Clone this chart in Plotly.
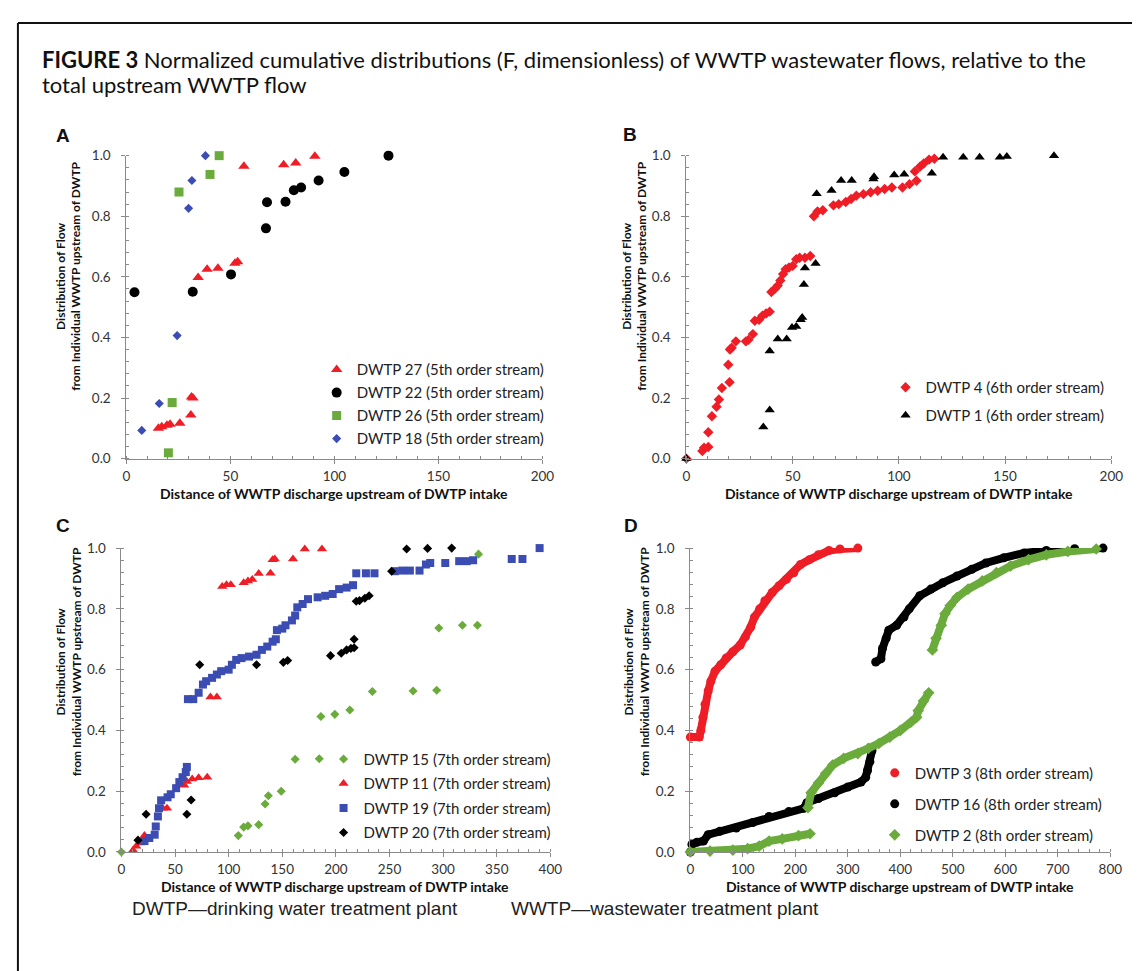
import plotly.graph_objects as go

W, H = 1140, 971

# ---------------- Panel A (5th order streams) ----------------
a27_x = [15.4, 17, 19.5, 21, 25.7, 31, 31.3, 32, 34.5, 38.8, 44, 52.2, 53.5, 56.5, 75.6, 81.4, 90.6]
a27_y = [0.100, 0.105, 0.110, 0.113, 0.117, 0.144, 0.203, 0.200, 0.598, 0.625, 0.628, 0.645, 0.650, 0.965, 0.970, 0.976, 0.998]
a22_x = [3.9, 31.9, 50.3, 67.1, 67.6, 76.5, 80.5, 84.0, 92.4, 104.8, 126.0]
a22_y = [0.549, 0.551, 0.608, 0.760, 0.846, 0.848, 0.886, 0.895, 0.918, 0.946, 1.0]
a26_x = [20.2, 22.0, 25.3, 40.2, 44.6]
a26_y = [0.019, 0.185, 0.880, 0.938, 1.0]
a18_x = [7.4, 15.8, 24.4, 29.9, 31.5, 38.0]
a18_y = [0.093, 0.182, 0.406, 0.826, 0.918, 1.0]

# ---------------- Panel B (6th order streams) ----------------
b4_x = [0, 7.5, 8.3, 10.3, 10.3, 12, 14.2, 15.3, 16.7, 20.3, 19.7, 20.5, 21.3, 23.3, 28, 29.2, 31.3,
        32.2, 34.2, 35.8, 37.5, 39.2, 40, 41.7, 43, 44.2, 45.5, 46.7, 48.3, 50, 51.7, 53.3, 55.8,
        58.3, 60, 61.7, 64.2, 69.2, 71.7, 75, 77.5, 80, 83.3, 86.7, 90, 93.3, 96.7, 101.7, 105,
        108.3, 107.5, 110, 111.7, 114.2, 116.7]
b4_y = [0, 0.025, 0.036, 0.038, 0.087, 0.14, 0.171, 0.195, 0.233, 0.252, 0.31, 0.36, 0.366, 0.387,
        0.387, 0.392, 0.411, 0.455, 0.458, 0.472, 0.479, 0.485, 0.55, 0.561, 0.571, 0.588, 0.609,
        0.625, 0.631, 0.636, 0.658, 0.663, 0.663, 0.669, 0.80, 0.816, 0.82, 0.836, 0.84, 0.847,
        0.857, 0.868, 0.873, 0.879, 0.884, 0.89, 0.895, 0.895, 0.906, 0.917, 0.948, 0.964, 0.974,
        0.987, 0.99]
b1_x = [0, 36.2, 39.2, 39.2, 43, 47.2, 49.7, 51.7, 53.8, 54.5, 55.3, 55.8, 60.8, 61.3, 68.3, 72.8,
        77.8, 88, 88.3, 97.8, 102.5, 115.5, 120.8, 130.3, 138, 147.5, 150.8, 173]
b1_y = [0, 0.104, 0.16, 0.355, 0.395, 0.395, 0.433, 0.436, 0.458, 0.466, 0.575, 0.629, 0.644, 0.874,
        0.885, 0.918, 0.918, 0.923, 0.93, 0.936, 0.939, 0.942, 0.995, 0.995, 0.995, 0.995, 0.997, 1.0]

# ---------------- Panel C (7th order streams) ----------------
c15_x = [0, 109, 114, 118, 128, 134, 137, 149, 162, 184.5, 186, 199, 213, 234, 272, 294, 296, 318, 332, 333]
c15_y = [0, 0.054, 0.082, 0.086, 0.09, 0.158, 0.185, 0.2, 0.305, 0.307, 0.446, 0.453, 0.467, 0.528,
         0.53, 0.532, 0.737, 0.746, 0.746, 0.98]
c11_x = [10.8, 13.8, 17, 21.5, 38.5, 42.5, 58.5, 61, 66, 72, 80, 83, 89, 94, 98, 102, 114, 118, 122,
         128, 139, 141, 143, 160, 171, 187]
c11_y = [0.006, 0.019, 0.03, 0.054, 0.144, 0.144, 0.22, 0.232, 0.24, 0.244, 0.246, 0.51, 0.51, 0.874,
         0.879, 0.879, 0.886, 0.892, 0.897, 0.916, 0.917, 0.962, 0.964, 0.964, 0.997, 0.997]
c19_x = [21.5, 26, 31, 32, 34, 35, 37, 43, 46, 51, 54, 57, 60, 61, 62, 67, 72, 76, 79, 84.5, 89, 93,
         100, 103, 107, 112, 119, 126, 131, 136, 141, 144, 145, 150, 153, 159, 162, 164, 169, 174,
         183, 190, 197, 203, 210, 216, 219, 228, 236, 255, 262, 269, 278, 284, 288, 302, 315, 322,
         328, 364, 374, 390]
c19_y = [0.036, 0.046, 0.057, 0.084, 0.117, 0.144, 0.17, 0.18, 0.19, 0.21, 0.23, 0.246, 0.263, 0.28,
         0.503, 0.503, 0.524, 0.551, 0.562, 0.573, 0.584, 0.595, 0.6, 0.616, 0.632, 0.638, 0.643,
         0.649, 0.665, 0.676, 0.692, 0.7, 0.73, 0.735, 0.746, 0.762, 0.778, 0.805, 0.816, 0.832,
         0.838, 0.843, 0.849, 0.865, 0.87, 0.878, 0.917, 0.917, 0.917, 0.924, 0.926, 0.926, 0.926,
         0.946, 0.951, 0.951, 0.957, 0.957, 0.96, 0.964, 0.964, 1.0]
c20_x = [15.4, 23, 61, 65, 73, 126, 151, 155, 195, 205, 210, 214, 217, 217, 219, 222, 227, 231, 252,
         266, 285.5, 308]
c20_y = [0.039, 0.124, 0.124, 0.171, 0.616, 0.616, 0.624, 0.63, 0.646, 0.654, 0.665, 0.67, 0.672,
         0.7, 0.825, 0.827, 0.835, 0.843, 0.924, 0.997, 0.999, 1.0]

# ---------------- Panel D (8th order streams) ----------------
d3_x = [0, 17, 20, 24, 28, 34, 39, 47, 58, 68, 81, 95, 105, 115, 122, 132, 142, 156, 169, 183, 197,
        210, 227, 244, 264, 285, 319]
d3_y = [0.378, 0.378, 0.40, 0.443, 0.486, 0.53, 0.562, 0.595, 0.616, 0.638, 0.659, 0.681, 0.708,
        0.74, 0.773, 0.80, 0.827, 0.854, 0.876, 0.897, 0.919, 0.946, 0.962, 0.978, 0.992, 0.997, 1.0]
d16_x = [0, 3, 12.5, 25, 34, 56, 87.5, 119, 150, 187.5, 216, 222, 244, 275, 300, 325, 334, 337.5,
         342, 346, None, 353, 363, 366, 373, 378, 393, 407, 417, 437, 458, 481, 508, 536, 563, 597,
         636, 678, 732, 786]
d16_y = [0, 0.025, 0.032, 0.036, 0.057, 0.068, 0.079, 0.097, 0.117, 0.133, 0.144, 0.162, 0.176,
         0.195, 0.214, 0.23, 0.246, 0.268, 0.297, 0.333, None, 0.625, 0.636, 0.67, 0.703, 0.73,
         0.746, 0.773, 0.80, 0.843, 0.865, 0.886, 0.908, 0.93, 0.951, 0.968, 0.984, 0.992, 0.998, 1.0]
d2_x = [0, 37.5, 81, 109, 131, 150, 175, 206, 228, None, 224, 230, 244, 258, 271, 292, 319, 339,
        359, 380, 400, 420, 431, 434, 444, 454, None, 461, 468, 478, 485, 495, 508, 529, 556, 583,
        610, 644, 678, 719, 773]
d2_y = [0, 0.003, 0.006, 0.011, 0.019, 0.036, 0.043, 0.054, 0.06, None, 0.146, 0.195, 0.227, 0.259,
        0.286, 0.308, 0.324, 0.341, 0.357, 0.378, 0.40, 0.427, 0.443, 0.465, 0.497, 0.524, None,
        0.665, 0.703, 0.746, 0.784, 0.811, 0.838, 0.865, 0.892, 0.919, 0.941, 0.962, 0.978, 0.989, 0.997]

# ---------------- text ----------------
title_bold = "FIGURE 3"
title_l1 = " Normalized cumulative distributions (F, dimensionless) of WWTP wastewater flows, relative to the"
title_l2 = "total upstream WWTP flow"
x_title = "Distance of WWTP discharge upstream of DWTP intake"
y_title_1 = "Distribution of Flow"
y_title_2 = "from Individual WWTP upstream of DWTP"
footer_1 = "DWTP\u2014drinking water treatment plant"
footer_2 = "WWTP\u2014wastewater treatment plant"

RED = "#ee1d26"
BLACK = "#000000"
GREEN = "#6aab3b"
BLUE = "#3b4cb3"
AX = "#8a8a8a"
SANS = "Lato, Open Sans, sans-serif"


def px(p):
    return p / W


def py(p):
    return 1 - p / H


fig = go.Figure()


def add(xs, ys, name, color, symbol, size, ax, legend, mode="markers"):
    fig.add_trace(go.Scatter(
        x=xs, y=ys, name=name, mode=mode, cliponaxis=False,
        marker=dict(color=color, symbol=symbol, size=size, line=dict(width=0)),
        xaxis="x" + ax, yaxis="y" + ax, legend=legend, legendgroup=name))


# Panel A
add(a27_x, a27_y, "DWTP 27 (5th order stream)", RED, "triangle-up", 10, "", "legend")
add(a22_x, a22_y, "DWTP 22 (5th order stream)", BLACK, "circle", 10, "", "legend")
add(a26_x, a26_y, "DWTP 26 (5th order stream)", GREEN, "square", 9, "", "legend")
add(a18_x, a18_y, "DWTP 18 (5th order stream)", BLUE, "diamond", 7, "", "legend")
# Panel B
add(b4_x, b4_y, "DWTP 4 (6th order stream)", RED, "diamond", 8, "2", "legend2")
add(b1_x, b1_y, "DWTP 1 (6th order stream)", BLACK, "triangle-up", 9, "2", "legend2")
# Panel C
add(c15_x, c15_y, "DWTP 15 (7th order stream)", GREEN, "diamond", 7, "3", "legend3")
add(c11_x, c11_y, "DWTP 11 (7th order stream)", RED, "triangle-up", 9, "3", "legend3")
add(c19_x, c19_y, "DWTP 19 (7th order stream)", BLUE, "square", 8, "3", "legend3")
add(c20_x, c20_y, "DWTP 20 (7th order stream)", BLACK, "diamond", 7, "3", "legend3")
# Panel D: dense series drawn as thick band + markers
for xs, ys, name, color, sym in [(d3_x, d3_y, "DWTP 3 (8th order stream)", RED, "circle"),
                                 (d16_x, d16_y, "DWTP 16 (8th order stream)", BLACK, "circle"),
                                 (d2_x, d2_y, "DWTP 2 (8th order stream)", GREEN, "diamond")]:
    fig.add_trace(go.Scatter(x=xs, y=ys, mode="lines", line=dict(color=color, width=8),
                             cliponaxis=False, showlegend=False, xaxis="x4", yaxis="y4",
                             hoverinfo="skip"))
    add(xs, ys, name, color, sym, 9, "4", "legend4")

TF = dict(family=SANS, size=13.5, color="#333333")


def xaxis(x0, x1, rng, dtick, mdtick, anchor):
    return dict(domain=[px(x0), px(x1)], range=rng, dtick=dtick, tick0=0, anchor=anchor,
                showline=True, linecolor=AX, linewidth=1, ticks="outside", ticklen=4,
                tickcolor=AX, ticklabelstandoff=1,
                minor=dict(ticks="inside", ticklen=3, dtick=mdtick, tick0=0, tickcolor=AX, showgrid=False),
                showgrid=False, zeroline=False, tickfont=TF, fixedrange=True)


def yaxis(y_top, y_bot, anchor):
    return dict(domain=[py(y_bot), py(y_top)], range=[0, 1], dtick=0.2, tick0=0, tickformat=".1f",
                anchor=anchor, showline=True, linecolor=AX, linewidth=1, ticks="outside", ticklen=4,
                tickcolor=AX, ticklabelstandoff=8,
                minor=dict(ticks="inside", ticklen=3, dtick=0.04, tick0=0, tickcolor=AX, showgrid=False),
                showgrid=False, zeroline=False, tickfont=TF, fixedrange=True)


LEG_FONT = dict(family=SANS, size=15, color="#222222")


def legend(x, y, gap):
    return dict(x=px(x), y=py(y), xanchor="left", yanchor="top", bgcolor="rgba(0,0,0,0)",
                font=LEG_FONT, itemwidth=30, traceorder="grouped", tracegroupgap=gap,
                itemsizing="trace")


fig.update_layout(
    width=W, height=H, margin=dict(l=0, r=0, t=0, b=0),
    paper_bgcolor="white", plot_bgcolor="white",
    xaxis=xaxis(116, 538, [0, 200], 50, 10, "y"),
    yaxis=yaxis(142, 450, "x"),
    xaxis2=xaxis(684, 1115, [0, 200], 50, 10, "y2"),
    yaxis2=yaxis(142, 450, "x2"),
    xaxis3=xaxis(111, 546, [0, 400], 50, 10, "y3"),
    yaxis3=yaxis(541, 850, "x3"),
    xaxis4=xaxis(688, 1114, [0, 800], 100, 20, "y4"),
    yaxis4=yaxis(541, 850, "x4"),
    legend=legend(309, 343, 0.5),
    legend2=legend(886, 361, 5.5),
    legend3=legend(316, 739, 2),
    legend4=legend(875, 753, 8.5),
    showlegend=True,
)

ann = []
ann.append(dict(x=px(28), y=py(44), xref="paper", yref="paper", xanchor="left", yanchor="middle",
                showarrow=False, text="<b>" + title_bold + "</b>" + title_l1,
                font=dict(family=SANS, size=22, color="#111111")))
ann.append(dict(x=px(28), y=py(70), xref="paper", yref="paper", xanchor="left", yanchor="middle",
                showarrow=False, text=title_l2, font=dict(family=SANS, size=22, color="#111111")))
for letter, lx, ly in [("A", 52, 122), ("B", 627, 120), ("C", 52, 518), ("D", 628, 518)]:
    ann.append(dict(x=px(lx), y=py(ly), xref="paper", yref="paper", xanchor="center", yanchor="middle",
                    showarrow=False, text="<b>" + letter + "</b>",
                    font=dict(family="Liberation Sans, Arial", size=19, color="#111111")))
for cx, cy in [(327, 485), (900, 485), (328, 885), (901, 885)]:
    ann.append(dict(x=px(cx), y=py(cy), xref="paper", yref="paper", xanchor="center", yanchor="middle",
                    showarrow=False, text="<b>" + x_title + "</b>",
                    font=dict(family=SANS, size=14, color="#111111")))
for cx, cy in [(57, 265), (631, 265), (57, 657), (633, 657)]:
    ann.append(dict(x=px(cx), y=py(cy), xref="paper", yref="paper", xanchor="center", yanchor="middle",
                    showarrow=False, textangle=-90,
                    text="<b>" + y_title_1 + "<br>" + y_title_2 + "</b>",
                    font=dict(family=SANS, size=12, color="#111111")))
ann.append(dict(x=px(120), y=py(907), xref="paper", yref="paper", xanchor="left", yanchor="middle",
                showarrow=False, text=footer_1,
                font=dict(family="Liberation Sans Narrow, Liberation Sans, Arial", size=19, color="#222222")))
ann.append(dict(x=px(504), y=py(907), xref="paper", yref="paper", xanchor="left", yanchor="middle",
                showarrow=False, text=footer_2,
                font=dict(family="Liberation Sans Narrow, Liberation Sans, Arial", size=19, color="#222222")))
fig.update_layout(annotations=ann)

# figure frame (top and left edges visible in the reference)
fig.add_shape(type="line", xref="paper", yref="paper", x0=px(6), x1=1, y0=py(7), y1=py(7),
              line=dict(color="#111111", width=2))
fig.add_shape(type="line", xref="paper", yref="paper", x0=px(6), x1=px(6), y0=py(7), y1=0,
              line=dict(color="#111111", width=2))

fig.write_html("out.html")
